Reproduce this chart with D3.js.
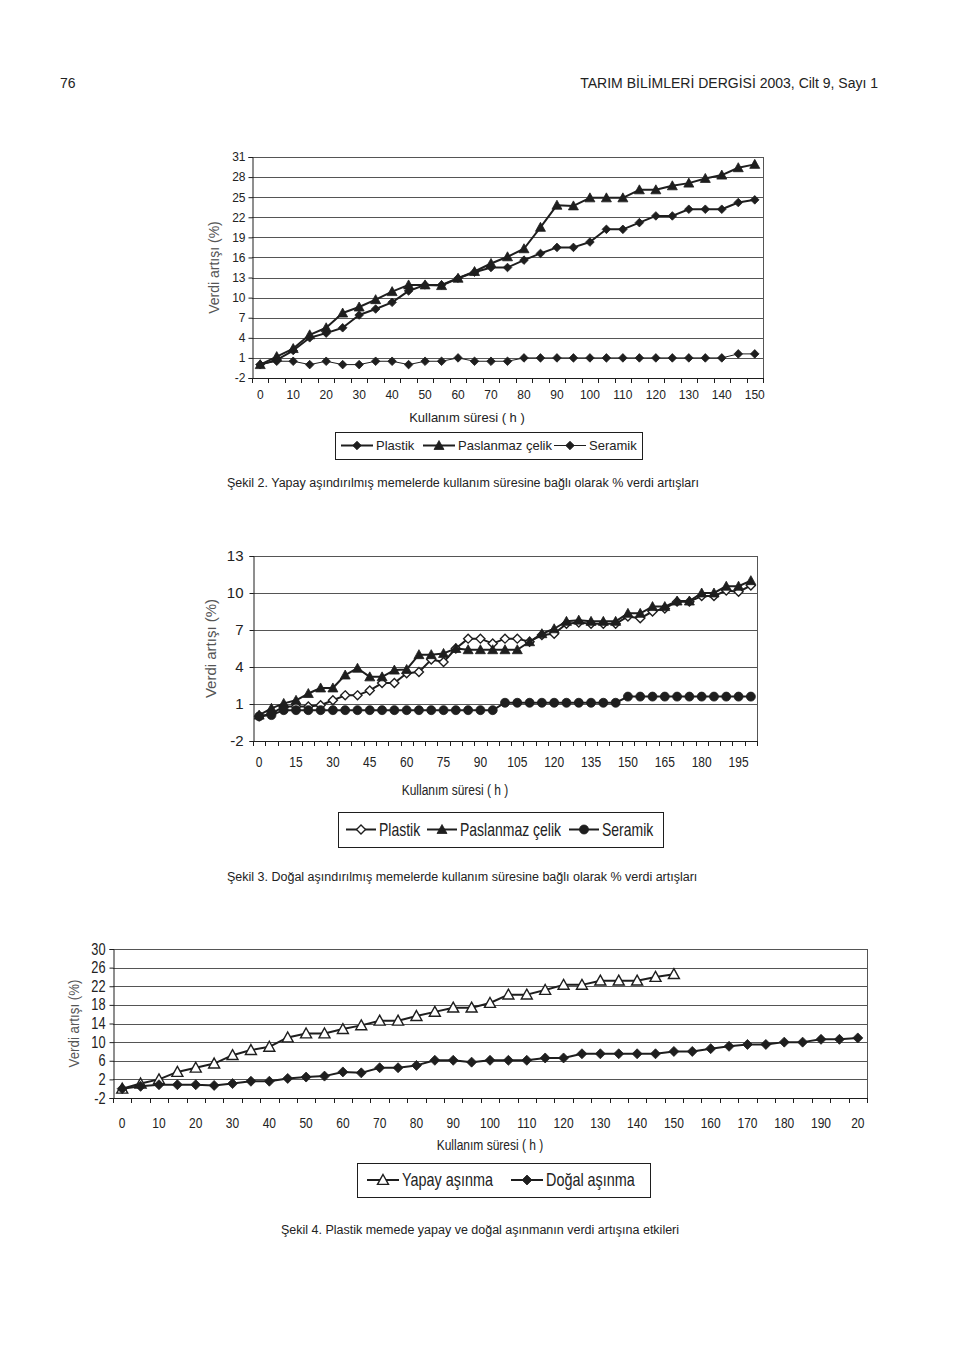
<!DOCTYPE html>
<html><head><meta charset="utf-8">
<script src="https://cdn.jsdelivr.net/npm/d3@7"></script>
<style>
body{margin:0;background:#fff;}
svg{display:block;}
text{font-family:"Liberation Sans",Arial,sans-serif;}
</style>
</head><body>
<script>
// ---------- DATA ----------
const c1Hours = [0,5,10,15,20,25,30,35,40,45,50,55,60,65,70,75,80,85,90,95,100,105,110,115,120,125,130,135,140,145,150];
const c1XTicks = [0,10,20,30,40,50,60,70,80,90,100,110,120,130,140,150];
const c1YTicks = [-2,1,4,7,10,13,16,19,22,25,28,31];
const c1Plastik = [0,0.7,2.1,4.0,4.7,5.5,7.4,8.3,9.3,11.0,11.9,11.9,12.9,13.8,14.5,14.5,15.6,16.6,17.5,17.5,18.3,20.2,20.2,21.2,22.2,22.2,23.2,23.2,23.2,24.2,24.6];
const c1Celik = [0,1.2,2.4,4.45,5.5,7.7,8.6,9.7,10.9,11.9,11.9,11.8,12.9,13.9,15.1,16.1,17.3,20.5,23.8,23.7,24.9,24.9,24.9,26.1,26.1,26.7,27.1,27.8,28.3,29.4,29.9];
const c1Seramik = [0,0.5,0.5,0,0.5,0,0,0.5,0.5,0,0.5,0.5,1,0.5,0.5,0.5,1,1,1,1,1,1,1,1,1,1,1,1,1,1.6,1.6];
const c1Names = ["Plastik","Paslanmaz çelik","Seramik"];

const c2Hours = [0,5,10,15,20,25,30,35,40,45,50,55,60,65,70,75,80,85,90,95,100,105,110,115,120,125,130,135,140,145,150,155,160,165,170,175,180,185,190,195,200];
const c2XTicks = [0,15,30,45,60,75,90,105,120,135,150,165,180,195];
const c2YTicks = [-2,1,4,7,10,13];
const c2Plastik = [0,0.2,0.8,0.8,0.8,0.9,1.3,1.7,1.7,2.1,2.7,2.7,3.5,3.6,4.6,4.4,5.5,6.3,6.3,5.9,6.3,6.3,6.05,6.6,6.7,7.5,7.6,7.5,7.5,7.5,8.1,7.95,8.5,8.75,9.3,9.3,9.75,9.75,10.2,10.1,10.6];
const c2Celik = [0.1,0.65,1.05,1.3,1.85,2.3,2.3,3.35,3.9,3.2,3.2,3.75,3.8,5.0,5.0,5.1,5.5,5.4,5.4,5.4,5.4,5.4,6.05,6.7,7.1,7.7,7.8,7.7,7.7,7.7,8.35,8.35,8.9,8.9,9.35,9.35,10.0,10.0,10.55,10.55,11.0];
const c2Seramik = [0,0.1,0.5,0.5,0.5,0.5,0.5,0.5,0.5,0.5,0.5,0.5,0.5,0.5,0.5,0.5,0.5,0.5,0.5,0.5,1.1,1.1,1.1,1.1,1.1,1.1,1.1,1.1,1.1,1.1,1.6,1.6,1.6,1.6,1.6,1.6,1.6,1.6,1.6,1.6,1.6];
const c2Names = ["Plastik","Paslanmaz çelik","Seramik"];

const c3Hours = [0,5,10,15,20,25,30,35,40,45,50,55,60,65,70,75,80,85,90,95,100,105,110,115,120,125,130,135,140,145,150,155,160,165,170,175,180,185,190,195,200];
const c3XTicks = [0,10,20,30,40,50,60,70,80,90,100,110,120,130,140,150,160,170,180,190,200];
const c3XTickText = ["0","10","20","30","40","50","60","70","80","90","100","110","120","130","140","150","160","170","180","190","20"];
const c3YTicks = [-2,2,6,10,14,18,22,26,30];
const c3Yapay = [0,1.1,2.0,3.6,4.5,5.4,7.2,8.3,9.0,11.0,11.85,11.85,12.8,13.6,14.6,14.6,15.6,16.5,17.4,17.4,18.4,20.2,20.2,21.2,22.3,22.3,23.2,23.2,23.2,24.0,24.6];
const c3Dogal = [0,0.5,0.85,0.85,0.85,0.7,1.1,1.6,1.6,2.2,2.5,2.7,3.6,3.4,4.5,4.5,5.0,6.1,6.1,5.7,6.1,6.1,6.1,6.6,6.6,7.5,7.5,7.5,7.5,7.5,8.0,8.0,8.6,9.1,9.5,9.5,10.0,10.0,10.6,10.6,10.9];
const c3Names = ["Yapay aşınma","Doğal aşınma"];

// ---------- DRAWING ----------
const W = 960, H = 1357;
const INK = "#1e1e1e", GRID = "#555";
const svg = d3.select("body").append("svg").attr("width", W).attr("height", H);

function shapePath(kind, r){
  if(kind==="diamond") return `M0,${-r}L${r},0L0,${r}L${-r},0Z`;
  if(kind==="triangle") return `M0,${-r}L${r},${r*0.8}L${-r},${r*0.8}Z`;
  return d3.symbol(d3.symbolCircle, Math.PI*r*r)();
}
// text with optional horizontal condensing
function label(parent, x, y, str, size, sx, anchor, fill){
  return parent.append("text")
    .attr("transform",`translate(${x},${y}) scale(${sx},1)`)
    .attr("text-anchor",anchor||"start").attr("font-size",size).attr("fill",fill||"#222").text(str);
}

label(svg,60,88,"76",14,1);
label(svg,878,88,"TARIM BİLİMLERİ DERGİSİ 2003, Cilt 9, Sayı 1",14,1,"end");

function drawChart(cfg){
  const g = svg.append("g");
  const x = d3.scaleBand().domain(cfg.hours).range([cfg.left, cfg.right]).paddingInner(0).paddingOuter(0);
  const y = d3.scaleLinear().domain([cfg.yTicks[0], cfg.yTicks[cfg.yTicks.length-1]]).range([cfg.bottom, cfg.top]);
  const cx = h => x(h) + x.bandwidth()/2;
  const yBase = Math.round(y(cfg.yTicks[0]))+0.5;

  // gridlines
  g.append("g").selectAll("line").data(cfg.yTicks).join("line")
    .attr("x1",cfg.left).attr("x2",cfg.right)
    .attr("y1",d=>Math.round(y(d))+0.5).attr("y2",d=>Math.round(y(d))+0.5)
    .attr("stroke",GRID).attr("stroke-width",1);
  // right border
  g.append("line").attr("x1",cfg.right+0.5).attr("x2",cfg.right+0.5).attr("y1",y.range()[1]).attr("y2",y.range()[0])
    .attr("stroke",GRID);

  // y axis
  const ya = g.append("g").attr("transform",`translate(${cfg.left+0.5},0)`)
    .call(d3.axisLeft(y).tickValues(cfg.yTicks).tickSize(4).tickPadding(cfg.yPad).tickFormat(d=>String(d)));
  ya.select(".domain").attr("stroke",INK);
  ya.selectAll(".tick line").attr("stroke",INK);
  ya.selectAll("text").attr("font-size",cfg.yFont).attr("fill","#222").attr("font-family",null)
    .attr("x",-(4+cfg.yPad)/cfg.ySx).attr("transform",`scale(${cfg.ySx},1)`);

  // x axis (labels at band centres)
  const xa = g.append("g").attr("transform",`translate(0,${yBase})`)
    .call(d3.axisBottom(x).tickValues(cfg.xTicks).tickSize(0).tickPadding(cfg.xPad)
      .tickFormat((d,i)=>cfg.xTickText ? cfg.xTickText[i] : String(d)));
  xa.select(".domain").remove();
  xa.selectAll("text").attr("font-size",cfg.xFont).attr("fill","#222").attr("font-family",null)
    .attr("transform",`scale(${cfg.xSx},1)`);
  g.append("line").attr("x1",cfg.left).attr("x2",cfg.right).attr("y1",yBase).attr("y2",yBase).attr("stroke",INK);
  // boundary tick marks
  const bounds = cfg.hours.map(h=>x(h)).concat([cfg.right]);
  g.append("g").selectAll("line").data(bounds).join("line")
    .attr("x1",d=>Math.round(d)+0.5).attr("x2",d=>Math.round(d)+0.5)
    .attr("y1",yBase-0.5).attr("y2",yBase+4.5)
    .attr("stroke",INK);

  // y title
  g.append("text")
    .attr("transform",`translate(${cfg.yTitleX},${(y.range()[0]+y.range()[1])/2}) rotate(-90) scale(${cfg.yTitleSx},1)`)
    .attr("text-anchor","middle").attr("font-size",cfg.yTitleFont).attr("fill","#555")
    .text("Verdi artışı (%)");
  // x title
  label(g,cfg.xTitleX,cfg.xTitleY,"Kullanım süresi ( h )",cfg.xTitleFont,cfg.xSx,"middle");

  // series
  cfg.series.forEach(s=>{
    const pts = s.values.map((v,i)=>[cfg.hours[i], v]);
    g.append("path").datum(pts)
      .attr("d", d3.line().x(d=>cx(d[0])).y(d=>y(d[1])))
      .attr("fill","none").attr("stroke",INK).attr("stroke-width",s.lw).attr("stroke-linejoin","round");
    g.append("g").selectAll("path").data(pts).join("path")
      .attr("transform",d=>`translate(${cx(d[0])},${y(d[1])})`)
      .attr("d",shapePath(s.shape,s.r))
      .attr("fill",s.open?"#fff":INK).attr("stroke",INK).attr("stroke-width",s.open?1.4:0.8);
  });

  // legend
  const L = cfg.legend;
  g.append("rect").attr("x",L.x+0.5).attr("y",L.y+0.5).attr("width",L.w).attr("height",L.h)
    .attr("fill","#fff").attr("stroke",INK).attr("stroke-width",1);
  cfg.series.forEach((s,i)=>{
    const it = L.items[i];
    const my = L.y + L.h/2;
    g.append("line").attr("x1",it.x).attr("x2",it.x+L.sw).attr("y1",my).attr("y2",my)
      .attr("stroke",INK).attr("stroke-width",s.lw);
    g.append("path").attr("transform",`translate(${it.x+L.sw/2},${my})`).attr("d",shapePath(s.shape,s.r))
      .attr("fill",s.open?"#fff":INK).attr("stroke",INK).attr("stroke-width",s.open?1.4:0.8);
    label(g,it.x+L.sw+3,my+L.font*0.36,s.name,L.font,L.sx);
  });

  // caption
  label(svg,cfg.cap.x,cfg.cap.y,cfg.cap.text,cfg.cap.font,1,cfg.cap.anchor);
}

drawChart({
  hours:c1Hours, xTicks:c1XTicks, yTicks:c1YTicks,
  left:252, right:763, top:157, bottom:378,
  xFont:12, xSx:1, xPad:12, yFont:12, ySx:1, yPad:3,
  yTitleX:219, yTitleFont:14, yTitleSx:1, xTitleX:467, xTitleY:422, xTitleFont:13,
  series:[
    {name:c1Names[0], values:c1Plastik, shape:"diamond", r:4.3, lw:2},
    {name:c1Names[1], values:c1Celik, shape:"triangle", r:5, lw:2},
    {name:c1Names[2], values:c1Seramik, shape:"diamond", r:4.3, lw:1}
  ],
  legend:{x:335,y:432,w:307,h:27,sw:32,font:13,sx:1,items:[{x:341},{x:423},{x:554}]},
  cap:{x:227,y:487,font:12.5,text:"Şekil 2. Yapay aşındırılmış memelerde kullanım süresine bağlı olarak % verdi artışları"}
});

drawChart({
  hours:c2Hours, xTicks:c2XTicks, yTicks:c2YTicks,
  left:253, right:757, top:556, bottom:741,
  xFont:15, xSx:0.8, xPad:15, yFont:15, ySx:1, yPad:6,
  yTitleX:216, yTitleFont:15, yTitleSx:1, xTitleX:455, xTitleY:795, xTitleFont:15,
  series:[
    {name:c2Names[0], values:c2Plastik, shape:"diamond", r:4.5, lw:2, open:true},
    {name:c2Names[1], values:c2Celik, shape:"triangle", r:5, lw:2},
    {name:c2Names[2], values:c2Seramik, shape:"circle", r:4.5, lw:2}
  ],
  legend:{x:338,y:812,w:325,h:35,sw:30,font:17.5,sx:0.8,items:[{x:346},{x:427},{x:569}]},
  cap:{x:227,y:881,font:12.5,text:"Şekil 3. Doğal aşındırılmış memelerde kullanım süresine bağlı olarak % verdi artışları"}
});

drawChart({
  hours:c3Hours, xTicks:c3XTicks, xTickText:c3XTickText, yTicks:c3YTicks,
  left:113, right:867, top:949, bottom:1098,
  xFont:15, xSx:0.8, xPad:19, yFont:16, ySx:0.8, yPad:4,
  yTitleX:79, yTitleFont:14, yTitleSx:0.95, xTitleX:490, xTitleY:1150, xTitleFont:15,
  series:[
    {name:c3Names[0], values:c3Yapay, shape:"triangle", r:5.5, lw:2, open:true},
    {name:c3Names[1], values:c3Dogal, shape:"diamond", r:5, lw:2}
  ],
  legend:{x:357,y:1163,w:293,h:34,sw:32,font:18,sx:0.8,items:[{x:367},{x:511}]},
  cap:{x:480,y:1234,anchor:"middle",font:12.5,text:"Şekil 4. Plastik memede yapay ve doğal aşınmanın verdi artışına etkileri"}
});
</script>
</body></html>
